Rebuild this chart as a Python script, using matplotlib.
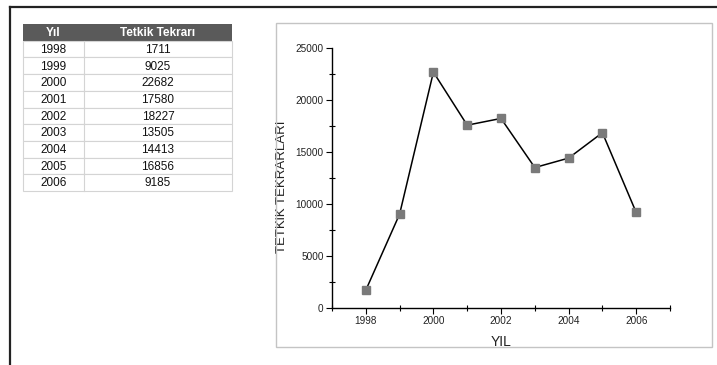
import matplotlib
matplotlib.use("Agg")
import matplotlib.pyplot as plt
from matplotlib.patches import Rectangle
from matplotlib.lines import Line2D
from matplotlib.ticker import MultipleLocator

plt.rcParams['font.family'] = ['Liberation Sans', 'DejaVu Sans']

years = [1998, 1999, 2000, 2001, 2002, 2003, 2004, 2005, 2006]
counts = [1711, 9025, 22682, 17580, 18227, 13505, 14413, 16856, 9185]
col_headers = ['Yıl', 'Tetkik Tekrarı']

W, H = 717, 365
fig = plt.figure(figsize=(W / 100, H / 100), dpi=100)


def fx(px):
    return px / W


def fy(py):
    return 1 - py / H


# black frame lines (top and left)
fig.add_artist(Line2D([fx(10), 1], [fy(7), fy(7)], color='#222222', lw=1.6))
fig.add_artist(Line2D([fx(10), fx(10)], [fy(7), 0], color='#222222', lw=1.6))

# chart box
fig.add_artist(Rectangle((fx(276), fy(347)), fx(712) - fx(276), fy(23) - fy(347),
                         fill=False, edgecolor='#c4c4c4', lw=1.0))

# ---- table ----
tx0, tx1, ty0, ty1 = 23, 232, 24, 191
tab = fig.add_axes([fx(tx0), fy(ty1), fx(tx1) - fx(tx0), fy(ty0) - fy(ty1)])
nrows = len(years) + 1
tab.set_xlim(0, tx1 - tx0)
tab.set_ylim(nrows, 0)
tab.axis('off')
split = 84 - tx0
w = tx1 - tx0
tab.add_patch(Rectangle((0, 0), w, 1, facecolor='#5a5a5a', edgecolor='none', clip_on=False))
tab.text(split / 2, 0.55, col_headers[0], color='white', fontsize=8.5, fontweight='bold',
         ha='center', va='center')
tab.text((split + w) / 2, 0.55, col_headers[1], color='white', fontsize=8.5, fontweight='bold',
         ha='center', va='center')
for i, (yr, c) in enumerate(zip(years, counts)):
    r = i + 1
    tab.add_patch(Rectangle((0, r), w, 1, facecolor='white', edgecolor='#d4d4d4', lw=0.8,
                            clip_on=False))
    tab.plot([split, split], [r, r + 1], color='#d4d4d4', lw=0.8, clip_on=False)
    tab.text(split / 2, r + 0.55, str(yr), fontsize=8.5, ha='center', va='center', color='#111111')
    tab.text((split + w) / 2, r + 0.55, str(c), fontsize=8.5, ha='center', va='center', color='#111111')

# ---- chart ----
ax = fig.add_axes([fx(332), fy(308), fx(670) - fx(332), fy(48) - fy(308)])
ax.plot(years, counts, color='black', lw=1.1, marker='s', markersize=5.5,
        markerfacecolor='#7a7a7a', markeredgecolor='#7a7a7a')
ax.set_xlim(1997, 2007)
ax.set_ylim(0, 25000)
ax.xaxis.set_major_locator(MultipleLocator(2))
ax.xaxis.set_minor_locator(MultipleLocator(1))
ax.yaxis.set_major_locator(MultipleLocator(5000))
ax.yaxis.set_minor_locator(MultipleLocator(2500))
ax.spines['top'].set_visible(False)
ax.spines['right'].set_visible(False)
for s in ('left', 'bottom'):
    ax.spines[s].set_linewidth(1.0)
ax.tick_params(which='major', direction='out', length=4, width=0.8, labelsize=7.2, pad=2,
               labelcolor='#222222')
ax.tick_params(which='minor', direction='inout', length=4, width=0.8)
ax.set_xlabel('YIL', fontsize=10, color='#222222')
ax.set_ylabel('TETKiK TEKRARLARI', fontsize=9.5, color='#222222')
ax.xaxis.set_label_coords(0.5, -0.104)
ax.yaxis.set_label_coords(-0.131, 0.465)

fig.savefig('out.png', dpi=100)
